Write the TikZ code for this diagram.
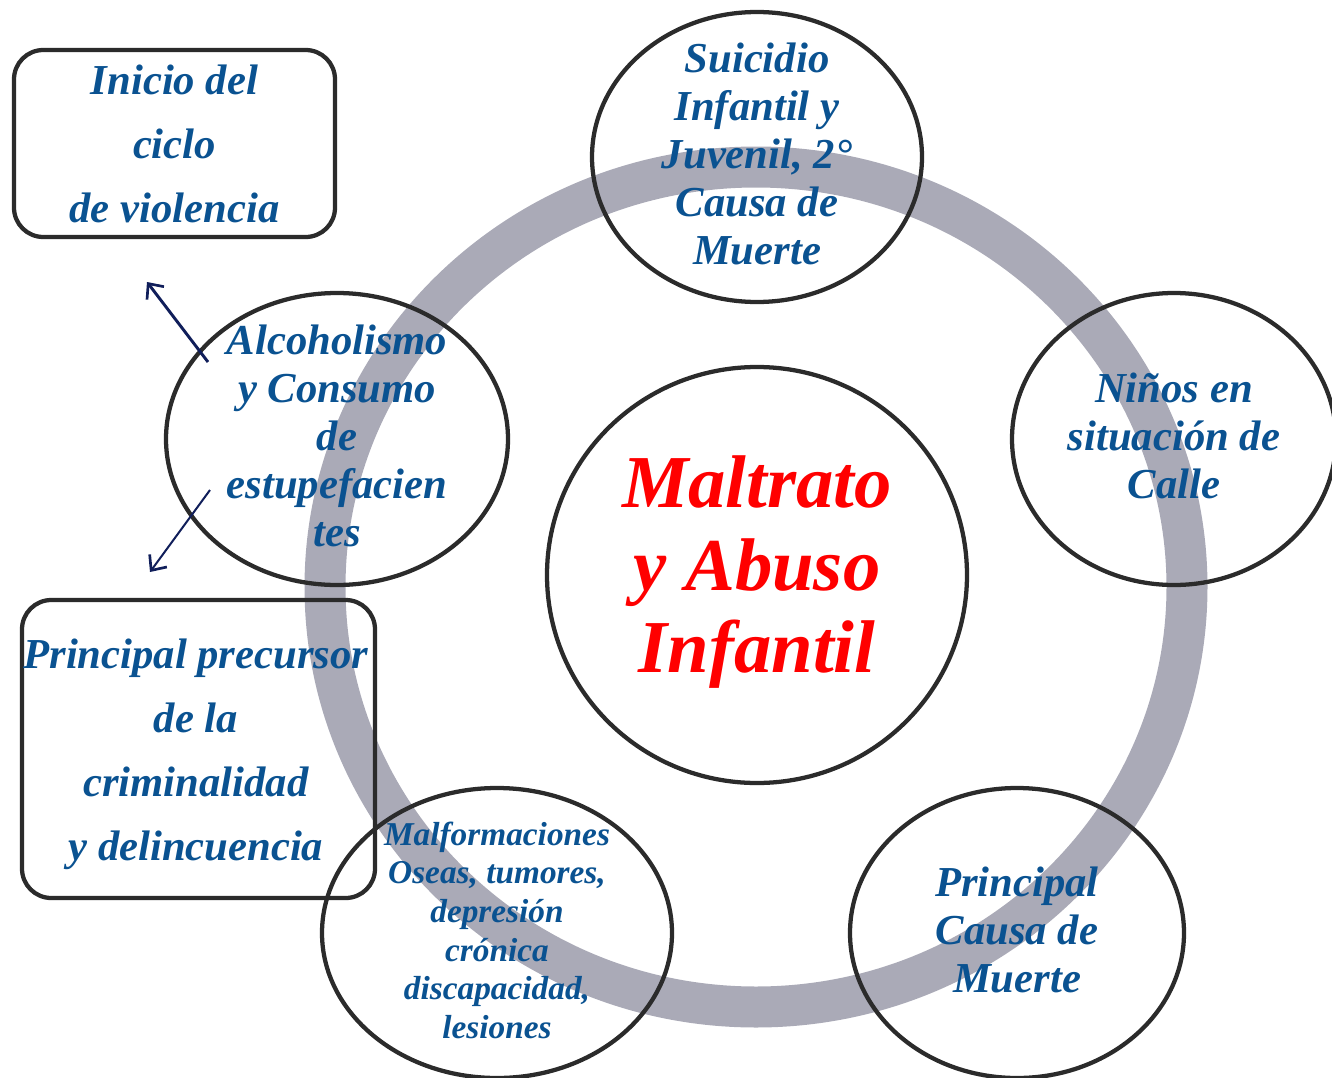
\documentclass[tikz,border=0pt]{standalone}
\usepackage{fontspec}
\setmainfont{Liberation Serif}
\usetikzlibrary{shapes.geometric, arrows.meta}

\definecolor{azul}{RGB}{10,82,145}
\definecolor{aro}{RGB}{170,170,183}
\definecolor{borde}{RGB}{43,43,43}
\definecolor{flecha}{RGB}{16,30,90}

\tikzset{
  bubble/.style={draw=borde, line width=3.2pt, shape=ellipse, inner sep=0pt},
  panel/.style={draw=borde, line width=3.2pt, rounded corners=22pt, inner sep=0pt},
  lbl/.style={text=azul, align=center, yshift=2pt, font=\fontsize{32}{36}\selectfont\bfseries\itshape},
  tip/.style={-{Straight Barb[length=9pt, width=16pt, line width=2pt]}},
}

\begin{document}
\begin{tikzpicture}[x=0.75pt, y=-0.75pt]
  \useasboundingbox (0,0) rectangle (1332,1078);

  % ring
  \draw[aro, line width=30.75pt] (756,587) circle [x radius=431, y radius=420];

  \node[bubble, minimum width=247.5pt, minimum height=217.5pt] (sui) at (757,157) {};
  \node[bubble, minimum width=243pt, minimum height=219pt] (nin) at (1174,439) {};
  \node[bubble, minimum width=256.5pt, minimum height=219pt] (alc) at (337,439) {};
  \node[bubble, minimum width=315pt, minimum height=312pt] (core) at (757,575) {};
  \node[bubble, minimum width=250.5pt, minimum height=217.5pt] (causa) at (1017,933) {};
  \node[bubble, minimum width=262.5pt, minimum height=217.5pt] (malf) at (497,933) {};

  \node[panel, minimum width=240.75pt, minimum height=140.25pt] (inicio) at (174.5,143.5) {};
  \node[panel, minimum width=264.75pt, minimum height=223.5pt] (prec) at (198.5,749) {};

  \node[lbl] at (sui.center) {Suicidio\\Infantil y\\Juvenil, 2°\\Causa de\\Muerte};
  \node[lbl] at (nin.center) {Niños en\\situación de\\Calle};
  \node[lbl] at (alc.center) {Alcoholismo\\y Consumo\\de\\estupefacien\\tes};
  \node[lbl, text=red, font=\fontsize{56}{62}\selectfont\bfseries\itshape] at (core.center) {Maltrato\\y Abuso\\Infantil};
  \node[lbl] at (causa.center) {Principal\\Causa de\\Muerte};
  \node[lbl, font=\fontsize{25}{29}\selectfont\bfseries\itshape] at (malf.center) {Malformaciones\\Oseas, tumores,\\depresión\\crónica\\discapacidad,\\lesiones};
  \node[lbl, yshift=-2pt, font=\fontsize{32}{48}\selectfont\bfseries\itshape] at (inicio.center) {Inicio del\\ciclo\\de violencia};
  \node[lbl, yshift=-6pt, font=\fontsize{32}{48}\selectfont\bfseries\itshape] at ([xshift=-2pt] prec.center) {Principal precursor\\de la\\criminalidad\\y delincuencia};

  \coordinate (up0) at (208,362);
  \coordinate (up1) at (147,282);
  \coordinate (dn0) at (210,490);
  \coordinate (dn1) at (150,572);
  \path[draw=flecha, line width=2.2pt, tip] (up0) to (up1);
  \path[draw=flecha, line width=1.5pt, tip] (dn0) to (dn1);

\end{tikzpicture}
\end{document}
